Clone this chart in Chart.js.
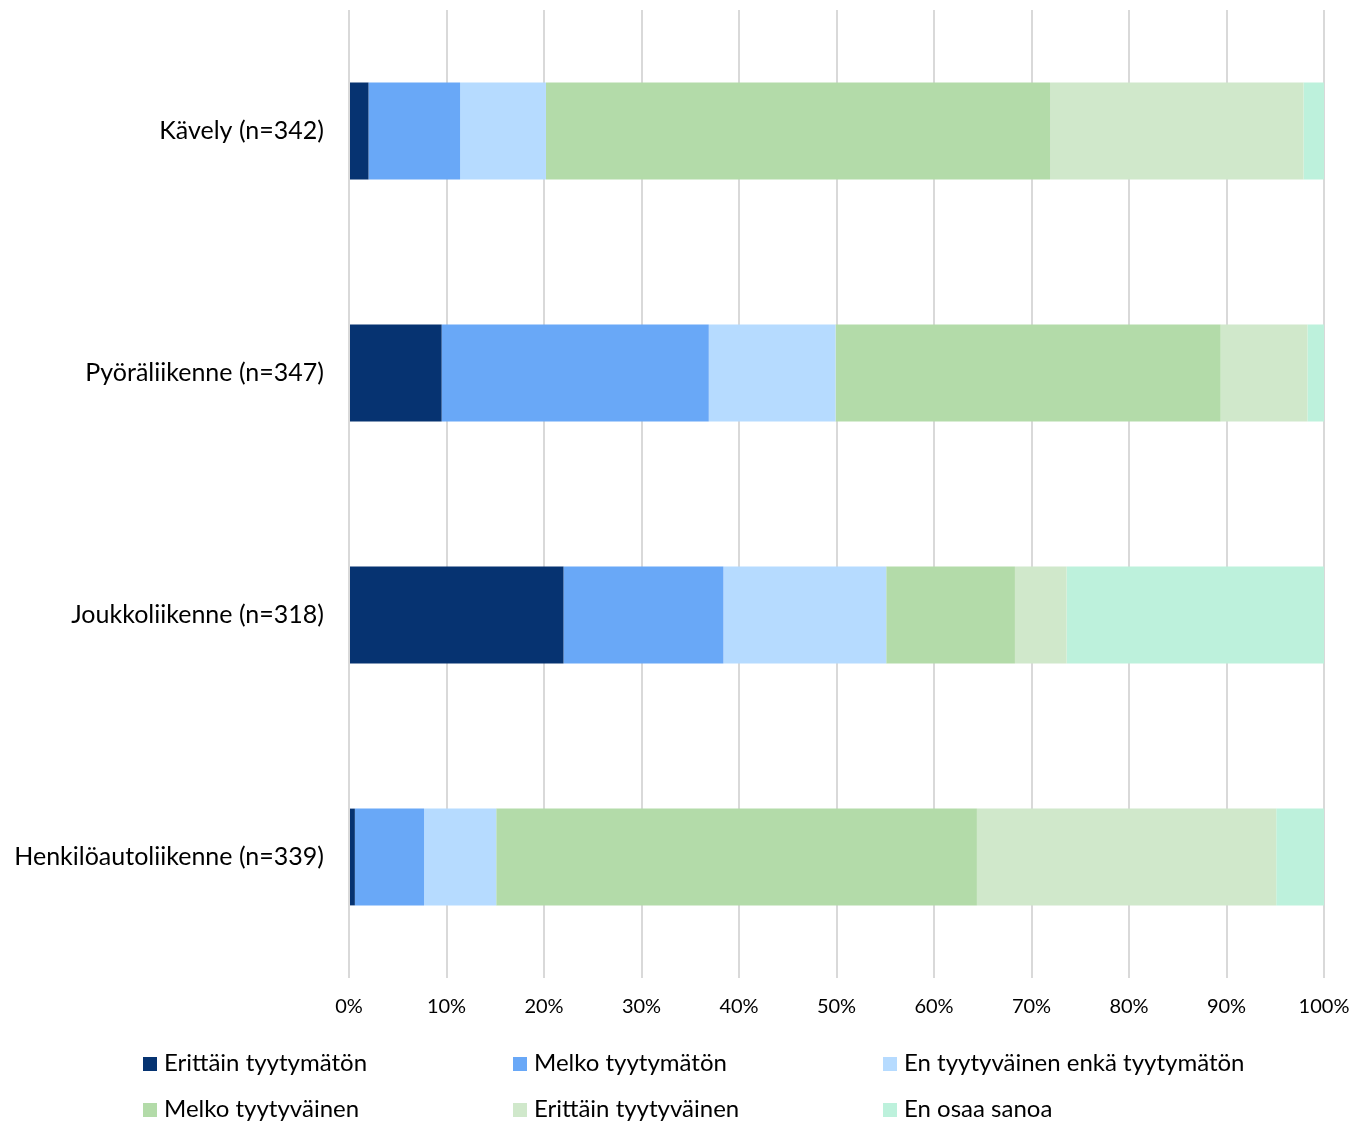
<!DOCTYPE html>
<html>
<head>
<meta charset="utf-8">
<script src="https://cdn.jsdelivr.net/npm/chart.js@4/dist/chart.umd.min.js"></script>
<style>
  html, body { margin: 0; padding: 0; background: #fff; }
  #wrap { position: relative; width: 1355px; height: 1121px; }
  canvas { position: absolute; left: 0; top: 0; }
  .lg { position: absolute; font-family: Lato, "Open Sans", sans-serif; font-size: 24px; color: #000; white-space: nowrap; line-height: 28px; }
  .lg span.sw { display: inline-block; width: 14px; height: 14px; margin-right: 7px; vertical-align: 0px; }
</style>
</head>
<body>
<div id="wrap"><canvas id="c" width="1355" height="1121"></canvas><div id="legend"></div></div>
<script>
const categories = ["Kävely (n=342)", "Pyöräliikenne (n=347)", "Joukkoliikenne (n=318)", "Henkilöautoliikenne (n=339)"];
const seriesNames = ["Erittäin tyytymätön", "Melko tyytymätön", "En tyytyväinen enkä tyytymätön", "Melko tyytyväinen", "Erittäin tyytyväinen", "En osaa sanoa"];
const erittainTyytymaton = [2.0, 9.5, 22.0, 0.6];
const melkoTyytymaton = [9.4, 27.4, 16.4, 7.1];
const enTyytyvainenEnka = [8.8, 13.0, 16.7, 7.4];
const melkoTyytyvainen = [51.7, 39.5, 13.2, 49.3];
const erittainTyytyvainen = [26.0, 8.9, 5.3, 30.7];
const enOsaaSanoa = [2.1, 1.7, 26.4, 5.0];
const tickLabels = ["0%", "10%", "20%", "30%", "40%", "50%", "60%", "70%", "80%", "90%", "100%"];
const colors = ["#063371", "#69A8F7", "#B6DBFF", "#B3DBA9", "#D0E8CB", "#BDF1DC"];

const seriesValues = [erittainTyytymaton, melkoTyytymaton, enTyytyvainenEnka, melkoTyytyvainen, erittainTyytyvainen, enOsaaSanoa];
const FONT = 'Lato, "Open Sans", sans-serif';

const chart = new Chart(document.getElementById('c'), {
  type: 'bar',
  data: {
    labels: categories,
    datasets: seriesNames.map((n, i) => ({
      label: n,
      data: seriesValues[i],
      backgroundColor: colors[i],
      borderWidth: 0,
      categoryPercentage: 1.0,
      barPercentage: 0.4
    }))
  },
  options: {
    indexAxis: 'y',
    responsive: false,
    animation: false,
    layout: { padding: { top: 10, right: 31, left: 0, bottom: 0 } },
    plugins: { legend: { display: false }, tooltip: { enabled: false } },
    scales: {
      x: {
        stacked: true, min: 0, max: 100,
        ticks: { stepSize: 10, padding: 17, color: '#000', font: { family: FONT, size: 20 },
                 callback: (v, i) => tickLabels[i] },
        grid: { color: '#d9d9d9', lineWidth: 2, drawTicks: false },
        border: { display: false },
        afterFit: s => { s.height = 143; s.paddingLeft = 0; s.paddingRight = 0; s.paddingTop = 0; s.paddingBottom = 0; }
      },
      y: {
        stacked: true,
        ticks: { padding: 25, color: '#000', font: { family: FONT, size: 25 } },
        grid: { display: false, drawTicks: false },
        border: { display: false },
        afterFit: s => { s.width = 349; s.paddingLeft = 0; s.paddingRight = 0; s.paddingTop = 0; s.paddingBottom = 0; }
      }
    }
  }
});

const lg = document.getElementById('legend');
const colX = [143, 513, 883];
const rowY = [1062, 1108];
seriesNames.forEach((n, i) => {
  const d = document.createElement('div');
  d.className = 'lg';
  d.style.left = colX[i % 3] + 'px';
  d.style.top = (rowY[Math.floor(i / 3)] - 14) + 'px';
  const sw = document.createElement('span');
  sw.className = 'sw';
  sw.style.background = colors[i];
  d.appendChild(sw);
  d.appendChild(document.createTextNode(n));
  lg.appendChild(d);
});
</script>
</body>
</html>
